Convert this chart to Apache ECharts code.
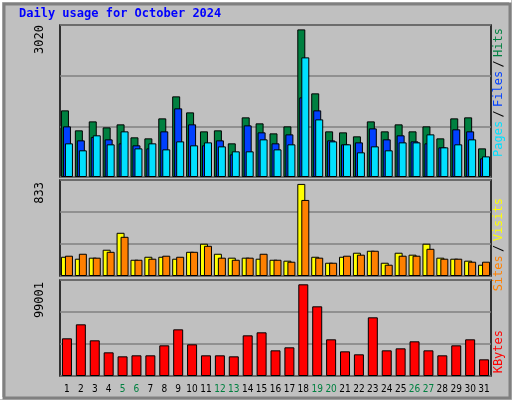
<!DOCTYPE html>
<html><head><meta charset="utf-8">
<script src="https://cdn.jsdelivr.net/npm/echarts@6/dist/echarts.min.js"></script>
<style>html,body{margin:0;padding:0;background:#c0c0c0}#c{width:512px;height:400px}</style>
</head><body><div id="c"></div>
<script>
const days = Array.from({length:31},(_,i)=>String(i+1));
const weekends = ['5','6','12','13','19','20','26','27'];
const hits  = [1324,927,1105,986,1046,788,768,1165,1602,1284,907,927,669,1185,1066,867,1006,2933,1662,907,887,808,1105,907,1046,907,1006,768,1165,1185,569];
const files = [1006,728,794,748,669,629,569,907,1364,1046,629,728,450,1026,887,669,847,1582,1324,728,649,688,966,748,828,708,669,589,947,907,371];
const pages = [669,530,828,649,907,569,669,549,708,629,688,609,510,510,748,549,649,2377,1145,708,649,490,609,530,688,688,847,589,649,748,410];
const sites = [167,150,159,228,375,141,167,167,150,210,280,193,159,159,150,141,133,799,167,115,167,202,219,115,202,185,280,159,150,133,98];
const visits= [176,193,159,210,340,141,150,176,167,210,262,159,141,159,193,141,124,660,159,115,176,185,219,98,176,176,236,150,150,124,124];
const kbytes= [38850,53290,36790,24410,20280,21320,21320,31630,48130,32660,21320,21320,20280,41940,45040,26470,29570,94550,71850,37820,25440,22350,60510,26470,28530,35760,26470,21320,31630,37820,17190];
const maxima = [3020, 833, 99001];

const grids = [{left:60,width:431,top:25,height:152},{left:60,width:431,top:180,height:96},{left:60,width:431,top:280,height:96}];
const lf = 'DejaVu Sans Condensed';
const xAxes = grids.map((g,i)=>({type:'category',gridIndex:i,data:days,
  axisLine:{show:false},axisTick:{show:false},
  axisLabel:{show:i===2,interval:0,margin:8,fontFamily:lf,fontSize:10,
    formatter:v=>weekends.includes(v)?'{w|'+v+'}':'{n|'+v+'}',
    rich:{w:{color:'#008040',fontFamily:lf,fontSize:10},n:{color:'#000',fontFamily:lf,fontSize:10}}}}));
const yAxes = maxima.map((m,i)=>({type:'value',gridIndex:i,min:0,max:m,interval:m/3,
  axisLabel:{show:false},axisLine:{show:false},axisTick:{show:false},
  splitLine:{lineStyle:{color:'#808080',width:1.5}}}));
const bs = (name,data,color,xi,w,gap)=>({name,type:'bar',data,xAxisIndex:xi,yAxisIndex:xi,barWidth:w,barGap:gap,
  itemStyle:{color,borderColor:'#000',borderWidth:1},silent:true,animation:false});
const option = {
  backgroundColor:'#c0c0c0',animation:false,
  grid: grids.map(g=>Object.assign({show:true,backgroundColor:'#c0c0c0',borderColor:'#000',borderWidth:1.5},g)),
  xAxis:xAxes, yAxis:yAxes,
  series:[
    bs('Hits',hits,'#008040',0,8,'-75%'),
    bs('Files',files,'#0040ff',0,8,'-75%'),
    bs('Pages',pages,'#00e0ff',0,8,'-75%'),
    bs('Sites',sites,'#ffff00',1,8,'-50%'),
    bs('Visits',visits,'#ff8000',1,8,'-50%'),
    bs('KBytes',kbytes,'#ff0000',2,10,'0%')
  ],
  graphic:[
    {type:'rect',shape:{x:1,y:1,width:509,height:397},style:{fill:'none',stroke:'#ffffff',lineWidth:2},z:-1},
    {type:'rect',shape:{x:4,y:4,width:506,height:394},style:{fill:'none',stroke:'#808080',lineWidth:3},z:-1},
    {type:'text',left:19,top:8,style:{text:'Daily usage for October 2024',font:'bold 12px "DejaVu Sans Mono"',fill:'#0000ff'}},
    {type:'text',x:40,y:25,rotation:Math.PI/2,style:{text:String(maxima[0]),font:'12px "DejaVu Sans Mono"',fill:'#000',align:'right',verticalAlign:'middle'}},
    {type:'text',x:40,y:182,rotation:Math.PI/2,style:{text:String(maxima[1]),font:'12px "DejaVu Sans Mono"',fill:'#000',align:'right',verticalAlign:'middle'}},
    {type:'text',x:40,y:282,rotation:Math.PI/2,style:{text:String(maxima[2]),font:'12px "DejaVu Sans Mono"',fill:'#000',align:'right',verticalAlign:'middle'}},
    {type:'text',x:499,y:28,rotation:Math.PI/2,style:{text:'{a|Pages} {d|/} {b|Files} {d|/} {c|Hits}',align:'right',verticalAlign:'middle',
      rich:{a:{fill:'#00e0ff',font:'12px "DejaVu Sans Mono"'},b:{fill:'#0040ff',font:'12px "DejaVu Sans Mono"'},c:{fill:'#008040',font:'12px "DejaVu Sans Mono"'},d:{fill:'#000',font:'12px "DejaVu Sans Mono"'}}}},
    {type:'text',x:499,y:198,rotation:Math.PI/2,style:{text:'{a|Sites} {d|/} {b|Visits}',align:'right',verticalAlign:'middle',
      rich:{a:{fill:'#ff8000',font:'12px "DejaVu Sans Mono"'},b:{fill:'#ffff00',font:'12px "DejaVu Sans Mono"'},d:{fill:'#000',font:'12px "DejaVu Sans Mono"'}}}},
    {type:'text',x:499,y:330,rotation:Math.PI/2,style:{text:'KBytes',align:'right',verticalAlign:'middle',font:'12px "DejaVu Sans Mono"',fill:'#ff0000'}}
  ]
};
echarts.init(document.getElementById('c')).setOption(option);
</script></body></html>
